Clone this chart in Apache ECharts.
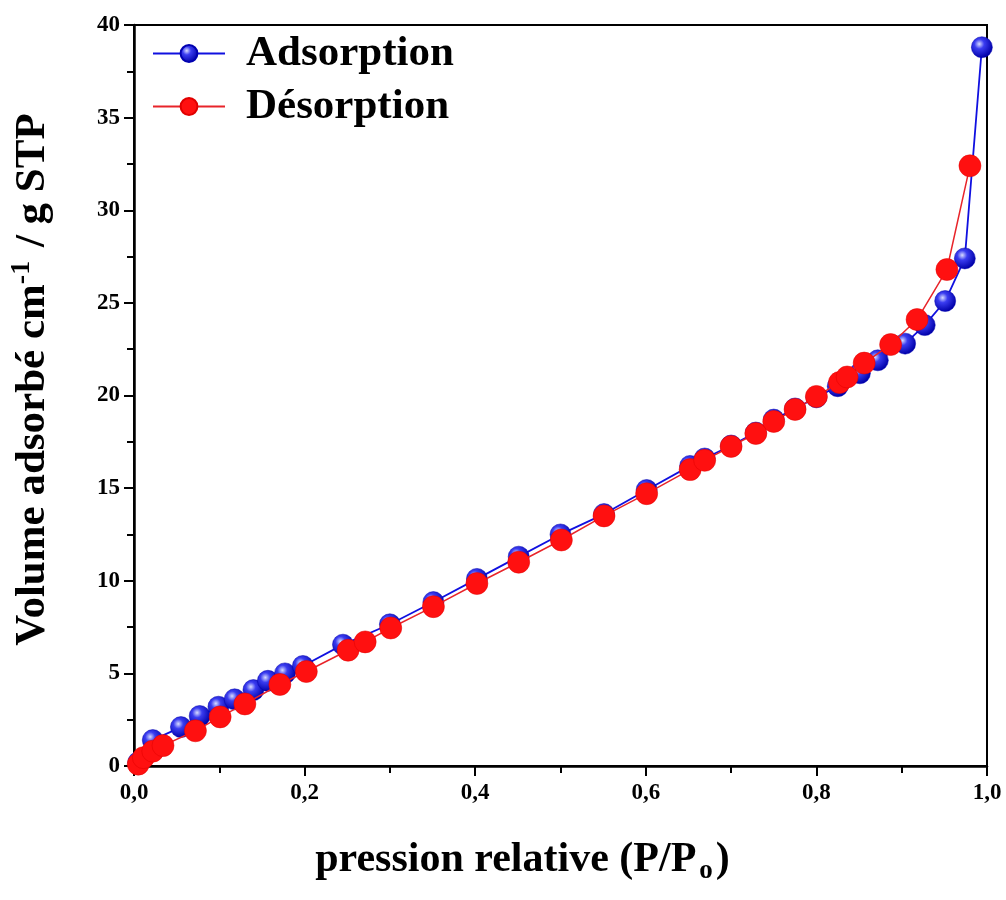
<!DOCTYPE html>
<html>
<head>
<meta charset="utf-8">
<script src="https://cdn.jsdelivr.net/npm/echarts@6/dist/echarts.min.js"></script>
<style>
  html, body { margin: 0; padding: 0; background: #fff; }
  #chart { width: 1006px; height: 900px; }
</style>
</head>
<body>
<div id="chart"></div>
<script>
// Relative pressure P/P0 and adsorbed volume for the isotherm branches
const adsX = [0.005, 0.022, 0.055, 0.077, 0.099, 0.118, 0.140, 0.157, 0.177, 0.198, 0.245, 0.300, 0.351, 0.402, 0.451, 0.500, 0.551, 0.601, 0.652, 0.669, 0.700, 0.729, 0.750, 0.775, 0.800, 0.825, 0.851, 0.872, 0.904, 0.927, 0.951, 0.974, 0.994];
const adsY = [0.2, 1.4, 2.1, 2.7, 3.2, 3.6, 4.1, 4.6, 5.0, 5.4, 6.55, 7.65, 8.85, 10.1, 11.3, 12.5, 13.6, 14.9, 16.2, 16.6, 17.3, 18.0, 18.7, 19.3, 19.9, 20.5, 21.2, 21.9, 22.8, 23.8, 25.1, 27.4, 38.8];

const desX = [0.005, 0.011, 0.022, 0.034, 0.072, 0.101, 0.130, 0.171, 0.202, 0.251, 0.271, 0.301, 0.351, 0.402, 0.451, 0.501, 0.551, 0.601, 0.652, 0.669, 0.700, 0.729, 0.750, 0.775, 0.800, 0.827, 0.836, 0.856, 0.887, 0.918, 0.953, 0.980];
const desY = [0.1, 0.45, 0.8, 1.1, 1.9, 2.65, 3.35, 4.4, 5.1, 6.25, 6.7, 7.45, 8.6, 9.85, 11.0, 12.2, 13.5, 14.7, 16.0, 16.5, 17.25, 17.95, 18.6, 19.25, 19.95, 20.7, 21.0, 21.75, 22.75, 24.1, 26.8, 32.4];

const xTicks = ['0,0', '0,2', '0,4', '0,6', '0,8', '1,0'];
const seriesNames = ['Adsorption', 'Désorption'];

const pairs = (xs, ys) => xs.map((x, i) => [x, ys[i]]);

const serif = '"Liberation Serif", "Times New Roman", serif';

// shaded sphere look for the adsorption markers
const blueBall = {
  type: 'radial', x: 0.38, y: 0.35, r: 0.65,
  colorStops: [
    { offset: 0, color: '#d8dcff' },
    { offset: 0.35, color: '#3a3cf0' },
    { offset: 1, color: '#0000a8' }
  ]
};

const chart = echarts.init(document.getElementById('chart'), null, { renderer: 'canvas' });

chart.setOption({
  backgroundColor: '#fff',
  animation: false,
  grid: {
    left: 134, right: 19, top: 25, bottom: 134,
    outerBoundsMode: 'none', containLabel: false,
    show: true, borderColor: '#000', borderWidth: 2, backgroundColor: 'transparent'
  },
  legend: {
    left: 147, top: 27, orient: 'vertical', itemGap: 10,
    itemWidth: 72, itemHeight: 21,
    textStyle: {
      fontFamily: serif, fontWeight: 'bold', fontSize: 43, color: '#000',
      padding: [0, 0, 0, 16]
    },
    data: seriesNames
  },
  xAxis: {
    type: 'value', min: 0, max: 1, interval: 0.2,
    name: '{t|pression relative (P/P}{s|o}{t|)}',
    nameLocation: 'middle', nameGap: 70,
    nameTextStyle: {
      padding: [0, 76, 0, 0],
      rich: {
        t: { fontFamily: serif, fontWeight: 'bold', fontSize: 42, color: '#000' },
        s: { fontFamily: serif, fontWeight: 'bold', fontSize: 27, color: '#000', padding: [22, 3, 0, 3] }
      }
    },
    axisLine: { lineStyle: { color: '#000', width: 2.5 } },
    axisTick: { show: true, inside: false, length: 10, lineStyle: { color: '#000', width: 2 } },
    minorTick: { show: true, splitNumber: 2, length: 7, lineStyle: { color: '#000', width: 2 } },
    splitLine: { show: false },
    axisLabel: {
      margin: 16, color: '#000', fontFamily: serif, fontWeight: 'bold', fontSize: 23,
      formatter: (v) => xTicks[Math.round(v / 0.2)]
    }
  },
  yAxis: {
    type: 'value', min: 0, max: 40, interval: 5,
    name: '{t|Volume adsorbé cm}{s|-1}{t| / g STP}',
    nameLocation: 'middle', nameGap: 76, nameRotate: 90,
    nameTextStyle: {
      padding: [0, 0, 0, 32],
      rich: {
        t: { fontFamily: serif, fontWeight: 'bold', fontSize: 43, color: '#000' },
        s: { fontFamily: serif, fontWeight: 'bold', fontSize: 28, color: '#000', padding: [0, 3, 22, 0] }
      }
    },
    axisLine: { lineStyle: { color: '#000', width: 2.5 } },
    axisTick: { show: true, inside: false, length: 10, lineStyle: { color: '#000', width: 2 } },
    minorTick: { show: true, splitNumber: 2, length: 7, lineStyle: { color: '#000', width: 2 } },
    splitLine: { show: false },
    axisLabel: {
      margin: 14, color: '#000', fontFamily: serif, fontWeight: 'bold', fontSize: 23
    }
  },
  series: [
    {
      name: seriesNames[0], type: 'line', data: pairs(adsX, adsY),
      symbol: 'circle', symbolSize: 21, z: 2,
      lineStyle: { color: '#1010e0', width: 1.8 },
      itemStyle: { color: blueBall, borderColor: '#0000b0', borderWidth: 0.5 }
    },
    {
      name: seriesNames[1], type: 'line', data: pairs(desX, desY),
      symbol: 'circle', symbolSize: 22, z: 3,
      lineStyle: { color: '#e8242a', width: 1.5 },
      itemStyle: { color: '#ff1010', borderColor: '#e00000', borderWidth: 0.5 }
    }
  ]
});
</script>
</body>
</html>
